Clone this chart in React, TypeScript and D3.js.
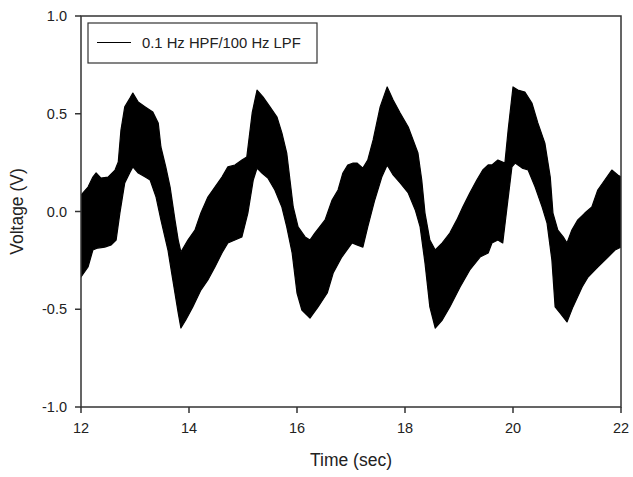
import React from "react";
import * as d3 from "d3";

const W = 633;
const H = 477;

const xTicks = [12, 14, 16, 18, 20, 22];
const yTicks = [-1.0, -0.5, 0.0, 0.5, 1.0];
const legendLabel = "0.1 Hz HPF/100 Hz LPF";
const xTitle = "Time (sec)";
const yTitle = "Voltage (V)";

// Upper envelope of the dense signal band: [time (s), voltage (V)]
const upperEnvelope: [number, number][] = [
  [12.0, 0.084], [12.13, 0.125], [12.22, 0.176], [12.28, 0.197], [12.37, 0.171], [12.5, 0.176],
  [12.63, 0.212], [12.69, 0.253], [12.74, 0.417], [12.81, 0.535], [12.91, 0.581], [12.96, 0.606],
  [13.06, 0.56], [13.19, 0.535], [13.33, 0.509], [13.43, 0.453], [13.48, 0.33], [13.57, 0.228],
  [13.65, 0.125], [13.74, -0.043], [13.8, -0.146], [13.85, -0.207], [13.98, -0.146], [14.11, -0.095],
  [14.22, -0.008], [14.35, 0.074], [14.48, 0.125],
  [14.61, 0.176], [14.72, 0.228], [14.85, 0.238], [14.98, 0.263], [15.07, 0.279], [15.17, 0.504],
  [15.26, 0.621], [15.37, 0.586], [15.5, 0.535], [15.63, 0.483], [15.72, 0.402], [15.81, 0.299],
  [15.87, 0.161], [15.93, 0.023], [16.02, -0.079], [16.15, -0.13], [16.24, -0.146], [16.33, -0.11],
  [16.52, -0.043], [16.65, 0.059], [16.76, 0.11], [16.85, 0.197], [16.94, 0.238], [17.04, 0.248],
  [17.11, 0.248], [17.22, 0.222], [17.31, 0.263], [17.41, 0.366], [17.54, 0.535], [17.67, 0.637],
  [17.78, 0.57], [17.91, 0.504], [18.06, 0.432], [18.15, 0.366], [18.24, 0.299], [18.31, 0.161],
  [18.37, -0.008], [18.46, -0.146], [18.56, -0.197], [18.69, -0.161], [18.83, -0.11], [18.96, -0.043],
  [19.07, 0.023], [19.2, 0.095], [19.33, 0.161], [19.44, 0.212], [19.54, 0.238],
  [19.61, 0.238], [19.72, 0.263], [19.85, 0.248], [19.91, 0.417], [20.0, 0.637], [20.09, 0.621],
  [20.22, 0.611], [20.35, 0.555], [20.46, 0.453], [20.59, 0.35], [20.69, 0.176], [20.74, -0.008],
  [20.83, -0.095], [20.93, -0.13], [21.0, -0.161], [21.09, -0.095], [21.2, -0.043], [21.33, -0.008],
  [21.46, 0.023], [21.57, 0.11], [21.7, 0.161], [21.83, 0.212], [21.94, 0.187], [22.0, 0.176],
];

// Lower envelope of the dense signal band: [time (s), voltage (V)]
const lowerEnvelope: [number, number][] = [
  [12.0, -0.335], [12.13, -0.284], [12.22, -0.197], [12.31, -0.187], [12.44, -0.182], [12.56, -0.171],
  [12.65, -0.146], [12.72, -0.008], [12.81, 0.146], [12.91, 0.202], [12.96, 0.228], [13.06, 0.197],
  [13.19, 0.176], [13.28, 0.161], [13.39, 0.074], [13.48, -0.043], [13.61, -0.197], [13.7, -0.35],
  [13.8, -0.519], [13.85, -0.596], [13.94, -0.555], [14.07, -0.488], [14.22, -0.402], [14.35, -0.35],
  [14.48, -0.284],
  [14.61, -0.212], [14.72, -0.161], [14.85, -0.146], [14.98, -0.13], [15.09, -0.008], [15.19, 0.161],
  [15.26, 0.222], [15.35, 0.197], [15.46, 0.171], [15.59, 0.11], [15.72, 0.023], [15.81, -0.079],
  [15.91, -0.212], [16.0, -0.417], [16.09, -0.504], [16.24, -0.545], [16.39, -0.488], [16.56, -0.417],
  [16.67, -0.315], [16.83, -0.233], [17.02, -0.161],
  [17.11, -0.171], [17.22, -0.182], [17.31, -0.079], [17.44, 0.059], [17.57, 0.176], [17.67, 0.238],
  [17.78, 0.187], [17.91, 0.146], [18.06, 0.095], [18.19, 0.008], [18.28, -0.079], [18.37, -0.263],
  [18.46, -0.488], [18.56, -0.596], [18.69, -0.555], [18.83, -0.488], [19.02, -0.386], [19.2, -0.299],
  [19.39, -0.233], [19.54, -0.212],
  [19.61, -0.161], [19.72, -0.146], [19.81, -0.161], [19.89, 0.023], [19.98, 0.228], [20.04, 0.248],
  [20.17, 0.222], [20.28, 0.212], [20.41, 0.125], [20.54, 0.023], [20.63, -0.059], [20.72, -0.248],
  [20.78, -0.488], [20.87, -0.519], [21.0, -0.565], [21.11, -0.488], [21.28, -0.386], [21.39, -0.335],
  [21.57, -0.284], [21.76, -0.233], [21.89, -0.197], [22.0, -0.182],
];

const plot = { left: 81, right: 621, top: 16, bottom: 407 };
const axisColor = "#333";
const font = "'Liberation Sans', Arial, sans-serif";

export default function App() {
  const x = d3.scaleLinear().domain([12, 22]).range([plot.left, plot.right]);
  const y = d3.scaleLinear().domain([-1, 1]).range([plot.bottom, plot.top]);

  const poly = [...upperEnvelope, ...lowerEnvelope.slice().reverse()];
  const path = d3
    .line<[number, number]>()
    .x((d) => x(d[0]))
    .y((d) => y(d[1]))(poly) + "Z";

  return (
    <svg
      width={W}
      height={H}
      style={{ position: "absolute", left: 0, top: 0, background: "#fff" }}
      fontFamily={font}
    >
      <rect x={0} y={0} width={W} height={H} fill="#fff" />
      <defs>
        <clipPath id="plotClip">
          <rect x={plot.left} y={plot.top} width={plot.right - plot.left} height={plot.bottom - plot.top} />
        </clipPath>
      </defs>
      {/* signal band */}
      <path
        d={path}
        fill="#000"
        stroke="#000"
        strokeWidth={1.2}
        strokeLinejoin="round"
        clipPath="url(#plotClip)"
      />

      {/* frame */}
      <rect
        x={plot.left}
        y={plot.top}
        width={plot.right - plot.left}
        height={plot.bottom - plot.top}
        fill="none"
        stroke={axisColor}
        strokeWidth={1.5}
      />

      {/* y ticks */}
      {yTicks.map((t) => (
        <g key={"y" + t}>
          <line x1={plot.left - 6} x2={plot.left} y1={y(t)} y2={y(t)} stroke={axisColor} strokeWidth={1.5} />
          <text x={67} y={y(t) + 5} textAnchor="end" fontSize={14.5} fill="#222">
            {t.toFixed(1)}
          </text>
        </g>
      ))}

      {/* x ticks */}
      {xTicks.map((t) => (
        <g key={"x" + t}>
          <line x1={x(t)} x2={x(t)} y1={plot.bottom} y2={plot.bottom + 6} stroke={axisColor} strokeWidth={1.5} />
          <text x={x(t)} y={433} textAnchor="middle" fontSize={14.5} fill="#222">
            {t}
          </text>
        </g>
      ))}

      {/* axis titles */}
      <text x={(plot.left + plot.right) / 2} y={466} textAnchor="middle" fontSize={17.5} fill="#222">
        {xTitle}
      </text>
      <text
        transform={`translate(23, ${(plot.top + plot.bottom) / 2}) rotate(-90)`}
        textAnchor="middle"
        fontSize={17.5}
        fill="#222"
      >
        {yTitle}
      </text>

      {/* legend */}
      <rect x={88} y={23} width={229} height={40} fill="#fff" stroke={axisColor} strokeWidth={1.2} />
      <line x1={97} x2={131} y1={42.5} y2={42.5} stroke="#000" strokeWidth={1.2} />
      <text x={142} y={48} fontSize={14.8} fill="#222">
        {legendLabel}
      </text>
    </svg>
  );
}
